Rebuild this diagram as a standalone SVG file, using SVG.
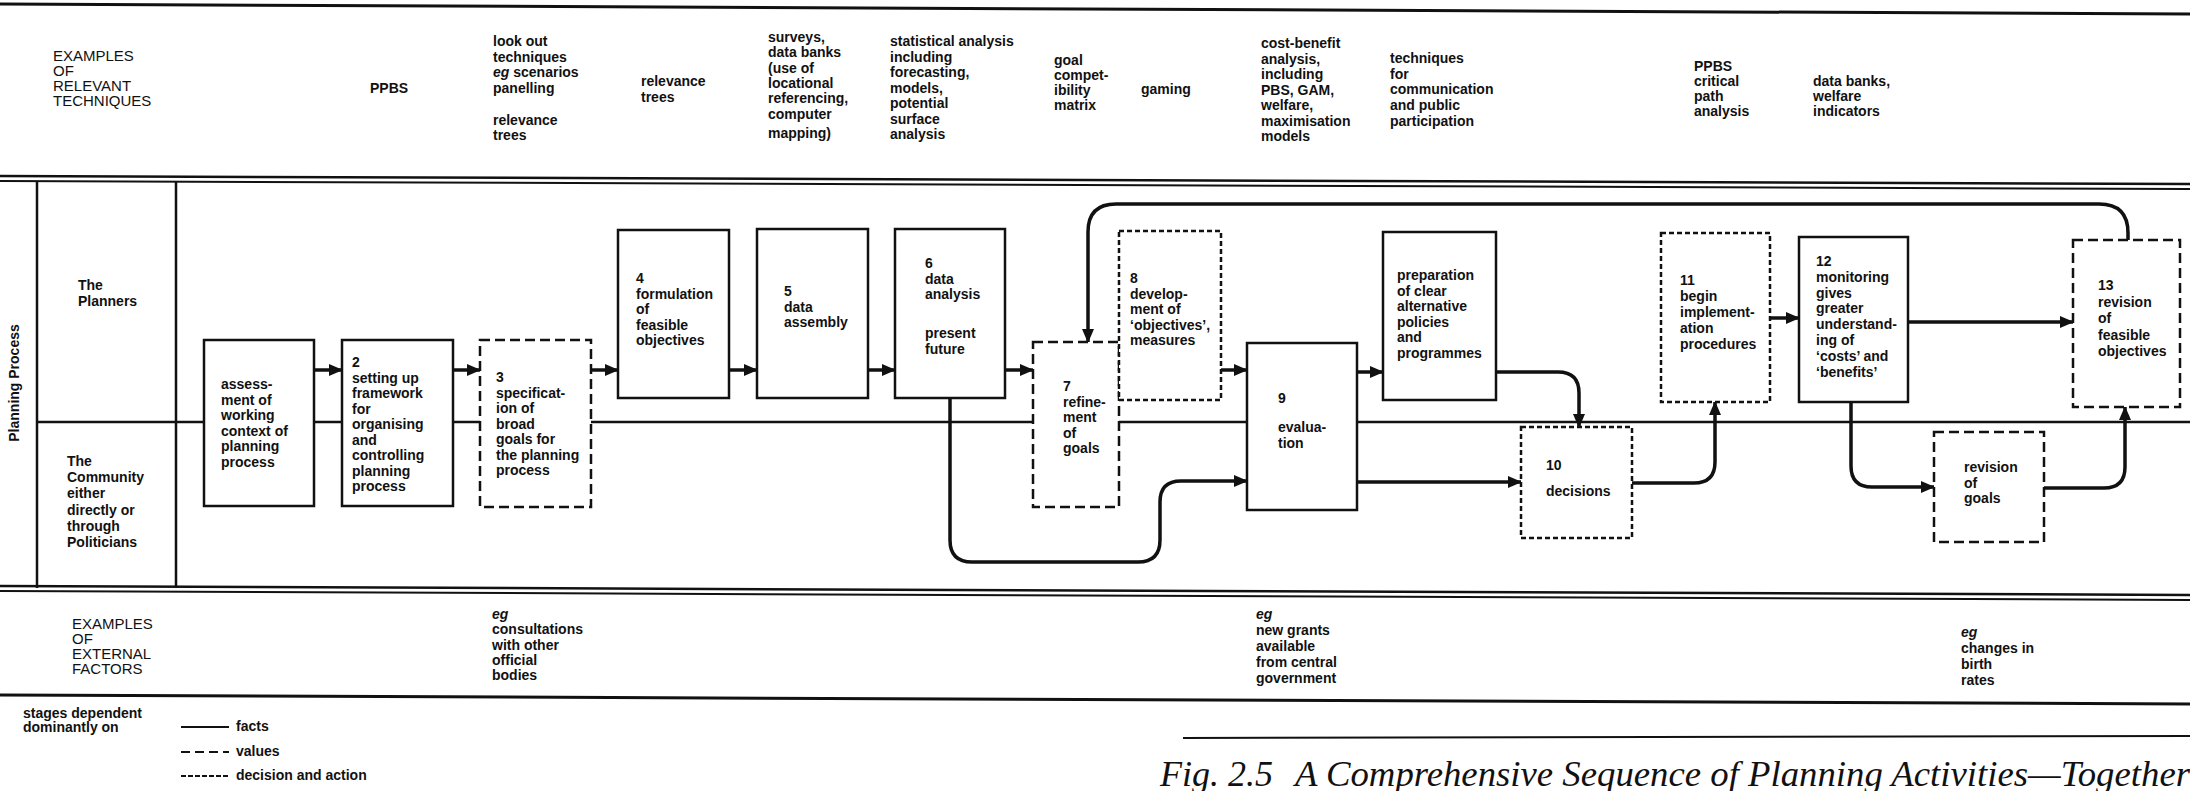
<svg xmlns="http://www.w3.org/2000/svg" width="2190" height="791" viewBox="0 0 2190 791">
<defs>
<marker id="ah" markerUnits="userSpaceOnUse" markerWidth="14" markerHeight="12" viewBox="0 0 14 12" refX="13" refY="6" orient="auto"><path d="M0,0 L14,6 L0,12 z" fill="#111"/></marker>
</defs>
<style>
text{font-family:"Liberation Sans",Arial,sans-serif;fill:#111}
.t{font-size:14px;font-weight:bold}
.h{font-size:15px}
.box{fill:#fff;stroke:#111;stroke-width:2.5}
.values{stroke-dasharray:10 5}
.dec{stroke-dasharray:5 3}
.rule{stroke:#111;fill:none}
.c{fill:none;stroke:#111;stroke-width:3.5;marker-end:url(#ah)}
.cap{font-family:"Liberation Serif","Times New Roman",serif;font-style:italic;font-size:36px}
.i{font-style:italic}
</style>
<rect x="0" y="0" width="2190" height="791" fill="#fff"/>

<g id="rules">
<path class="rule" stroke-width="3" d="M0 4 L2190 14"/>
<path class="rule" stroke-width="2.5" d="M0 176 L2190 184"/>
<path class="rule" stroke-width="2" d="M0 181 L2190 189"/>
<path class="rule" stroke-width="2.5" d="M0 586 L2190 595"/>
<path class="rule" stroke-width="2" d="M0 591 L2190 600"/>
<path class="rule" stroke-width="3" d="M0 695 L2190 704"/>
<path class="rule" stroke-width="2" d="M1183 738 L2190 736"/>
<path class="rule" stroke-width="2.5" d="M37 181 V588 M176 181 V588"/>
<path class="rule" stroke-width="2.5" d="M37 422 H2190"/>
</g>

<g id="header-techniques">
<text class="h" x="53" y="61"><tspan x="53">EXAMPLES</tspan><tspan x="53" dy="15">OF</tspan><tspan x="53" dy="15">RELEVANT</tspan><tspan x="53" dy="15">TECHNIQUES</tspan></text>
<text class="t" x="370" y="93">PPBS</text>
<text class="t" x="493" y="46"><tspan x="493">look out</tspan><tspan x="493" dy="15.5">techniques</tspan><tspan x="493" dy="15.5"><tspan class="i">eg</tspan> scenarios</tspan><tspan x="493" dy="15.5">panelling</tspan><tspan x="493" dy="32">relevance</tspan><tspan x="493" dy="15.5">trees</tspan></text>
<text class="t" x="641" y="86"><tspan x="641">relevance</tspan><tspan x="641" dy="15.5">trees</tspan></text>
<text class="t" x="768" y="42"><tspan x="768">surveys,</tspan><tspan x="768" dy="15.3">data banks</tspan><tspan x="768" dy="15.3">(use of</tspan><tspan x="768" dy="15.3">locational</tspan><tspan x="768" dy="15.3">referencing,</tspan><tspan x="768" dy="16">computer</tspan><tspan x="768" dy="19">mapping)</tspan></text>
<text class="t" x="890" y="46"><tspan x="890">statistical analysis</tspan><tspan x="890" dy="15.5">including</tspan><tspan x="890" dy="15.5">forecasting,</tspan><tspan x="890" dy="15.5">models,</tspan><tspan x="890" dy="15.5">potential</tspan><tspan x="890" dy="15.5">surface</tspan><tspan x="890" dy="15.5">analysis</tspan></text>
<text class="t" x="1054" y="65"><tspan x="1054">goal</tspan><tspan x="1054" dy="15">compet-</tspan><tspan x="1054" dy="15">ibility</tspan><tspan x="1054" dy="15">matrix</tspan></text>
<text class="t" x="1141" y="94">gaming</text>
<text class="t" x="1261" y="48"><tspan x="1261">cost-benefit</tspan><tspan x="1261" dy="15.5">analysis,</tspan><tspan x="1261" dy="15.5">including</tspan><tspan x="1261" dy="15.5">PBS, GAM,</tspan><tspan x="1261" dy="15.5">welfare,</tspan><tspan x="1261" dy="15.5">maximisation</tspan><tspan x="1261" dy="15.5">models</tspan></text>
<text class="t" x="1390" y="63"><tspan x="1390">techniques</tspan><tspan x="1390" dy="15.7">for</tspan><tspan x="1390" dy="15.7">communication</tspan><tspan x="1390" dy="15.7">and public</tspan><tspan x="1390" dy="15.7">participation</tspan></text>
<text class="t" x="1694" y="71"><tspan x="1694">PPBS</tspan><tspan x="1694" dy="15">critical</tspan><tspan x="1694" dy="15">path</tspan><tspan x="1694" dy="15">analysis</tspan></text>
<text class="t" x="1813" y="86"><tspan x="1813">data banks,</tspan><tspan x="1813" dy="15">welfare</tspan><tspan x="1813" dy="15">indicators</tspan></text>
</g>

<g id="lanes">
<text class="t" font-size="13" transform="translate(19,383) rotate(-90)" text-anchor="middle">Planning Process</text>
<text class="t" x="78" y="290"><tspan x="78">The</tspan><tspan x="78" dy="16">Planners</tspan></text>
<text class="t" x="67" y="466"><tspan x="67">The</tspan><tspan x="67" dy="16.2">Community</tspan><tspan x="67" dy="16.2">either</tspan><tspan x="67" dy="16.2">directly or</tspan><tspan x="67" dy="16.2">through</tspan><tspan x="67" dy="16.2">Politicians</tspan></text>
</g>

<g id="connectors">
<path class="c" d="M314 370 H342"/>
<path class="c" d="M453 370 H480"/>
<path class="c" d="M591 370 H618"/>
<path class="c" d="M729 370 H757"/>
<path class="c" d="M868 370 H895"/>
<path class="c" d="M1005 370 H1033"/>
<path class="c" d="M1221 370 H1247"/>
<path class="c" d="M1357 372 H1383"/>
<path class="c" d="M950 398 V540 Q950 562 972 562 H1138 Q1160 562 1160 540 V502 Q1160 481 1181 481 H1247"/>
<path class="c" d="M2128 240 V233 Q2128 204 2099 204 H1116 Q1088 204 1088 232 V342"/>
<path class="c" d="M1496 372 H1558 Q1579 372 1579 393 V427"/>
<path class="c" d="M1357 482 H1521"/>
<path class="c" d="M1632 483 H1694 Q1715 483 1715 462 V402"/>
<path class="c" d="M1770 318 H1799"/>
<path class="c" d="M1908 322 H2073"/>
<path class="c" d="M1851 402 V466 Q1851 487 1872 487 H1934"/>
<path class="c" d="M2044 488 H2104 Q2125 488 2125 467 V407"/>
</g>

<g id="n1"><rect class="box" x="204" y="340" width="110" height="166"/>
<text class="t" x="221" y="389"><tspan x="221">assess-</tspan><tspan x="221" dy="15.5">ment of</tspan><tspan x="221" dy="15.5">working</tspan><tspan x="221" dy="15.5">context of</tspan><tspan x="221" dy="15.5">planning</tspan><tspan x="221" dy="15.5">process</tspan></text></g>

<g id="n2"><rect class="box" x="342" y="340" width="111" height="166"/>
<text class="t" x="352" y="367"><tspan x="352">2</tspan><tspan x="352" dy="15.5">setting up</tspan><tspan x="352" dy="15.5">framework</tspan><tspan x="352" dy="15.5">for</tspan><tspan x="352" dy="15.5">organising</tspan><tspan x="352" dy="15.5">and</tspan><tspan x="352" dy="15.5">controlling</tspan><tspan x="352" dy="15.5">planning</tspan><tspan x="352" dy="15.5">process</tspan></text></g>

<g id="n3"><rect class="box values" x="480" y="340" width="111" height="167"/>
<text class="t" x="496" y="382"><tspan x="496">3</tspan><tspan x="496" dy="15.5">specificat-</tspan><tspan x="496" dy="15.5">ion of</tspan><tspan x="496" dy="15.5">broad</tspan><tspan x="496" dy="15.5">goals for</tspan><tspan x="496" dy="15.5">the planning</tspan><tspan x="496" dy="15.5">process</tspan></text></g>

<g id="n4"><rect class="box" x="618" y="230" width="111" height="168"/>
<text class="t" x="636" y="283"><tspan x="636">4</tspan><tspan x="636" dy="15.5">formulation</tspan><tspan x="636" dy="15.5">of</tspan><tspan x="636" dy="15.5">feasible</tspan><tspan x="636" dy="15.5">objectives</tspan></text></g>

<g id="n5"><rect class="box" x="757" y="229" width="111" height="169"/>
<text class="t" x="784" y="296"><tspan x="784">5</tspan><tspan x="784" dy="15.5">data</tspan><tspan x="784" dy="15.5">assembly</tspan></text></g>

<g id="n6"><rect class="box" x="895" y="229" width="110" height="169"/>
<text class="t" x="925" y="268"><tspan x="925">6</tspan><tspan x="925" dy="15.5">data</tspan><tspan x="925" dy="15.5">analysis</tspan><tspan x="925" dy="39">present</tspan><tspan x="925" dy="15.5">future</tspan></text></g>

<g id="n7"><rect class="box values" x="1033" y="342" width="86" height="165"/>
<text class="t" x="1063" y="391"><tspan x="1063">7</tspan><tspan x="1063" dy="15.5">refine-</tspan><tspan x="1063" dy="15.5">ment</tspan><tspan x="1063" dy="15.5">of</tspan><tspan x="1063" dy="15.5">goals</tspan></text></g>

<g id="n8"><rect class="box dec" x="1119" y="231" width="102" height="169"/>
<text class="t" x="1130" y="283"><tspan x="1130">8</tspan><tspan x="1130" dy="15.5">develop-</tspan><tspan x="1130" dy="15.5">ment of</tspan><tspan x="1130" dy="15.5">‘objectives’,</tspan><tspan x="1130" dy="15.5">measures</tspan></text></g>

<g id="n9"><rect class="box" x="1247" y="343" width="110" height="167"/>
<text class="t" x="1278" y="403"><tspan x="1278">9</tspan><tspan x="1278" dy="29">evalua-</tspan><tspan x="1278" dy="15.5">tion</tspan></text></g>

<g id="n-prep"><rect class="box" x="1383" y="232" width="113" height="168"/>
<text class="t" x="1397" y="280"><tspan x="1397">preparation</tspan><tspan x="1397" dy="15.5">of clear</tspan><tspan x="1397" dy="15.5">alternative</tspan><tspan x="1397" dy="15.5">policies</tspan><tspan x="1397" dy="15.5">and</tspan><tspan x="1397" dy="15.5">programmes</tspan></text></g>

<g id="n10"><rect class="box dec" x="1521" y="427" width="111" height="111"/>
<text class="t" x="1546" y="470"><tspan x="1546">10</tspan><tspan x="1546" dy="26">decisions</tspan></text></g>

<g id="n11"><rect class="box dec" x="1661" y="233" width="109" height="169"/>
<text class="t" x="1680" y="285"><tspan x="1680">11</tspan><tspan x="1680" dy="16">begin</tspan><tspan x="1680" dy="16">implement-</tspan><tspan x="1680" dy="16">ation</tspan><tspan x="1680" dy="16">procedures</tspan></text></g>

<g id="n12"><rect class="box" x="1799" y="237" width="109" height="165"/>
<text class="t" x="1816" y="266"><tspan x="1816">12</tspan><tspan x="1816" dy="15.8">monitoring</tspan><tspan x="1816" dy="15.8">gives</tspan><tspan x="1816" dy="15.8">greater</tspan><tspan x="1816" dy="15.8">understand-</tspan><tspan x="1816" dy="15.8">ing of</tspan><tspan x="1816" dy="15.8">‘costs’ and</tspan><tspan x="1816" dy="15.8">‘benefits’</tspan></text></g>

<g id="n13"><rect class="box values" x="2073" y="240" width="107" height="167"/>
<text class="t" x="2098" y="290"><tspan x="2098">13</tspan><tspan x="2098" dy="16.5">revision</tspan><tspan x="2098" dy="16.5">of</tspan><tspan x="2098" dy="16.5">feasible</tspan><tspan x="2098" dy="16.5">objectives</tspan></text></g>

<g id="n-revision"><rect class="box values" x="1934" y="432" width="110" height="110"/>
<text class="t" x="1964" y="472"><tspan x="1964">revision</tspan><tspan x="1964" dy="15.5">of</tspan><tspan x="1964" dy="15.5">goals</tspan></text></g>

<g id="external">
<text class="h" x="72" y="629"><tspan x="72">EXAMPLES</tspan><tspan x="72" dy="15">OF</tspan><tspan x="72" dy="15">EXTERNAL</tspan><tspan x="72" dy="15">FACTORS</tspan></text>
<text class="t" x="492" y="619"><tspan x="492" class="i">eg</tspan><tspan x="492" dy="15.3">consultations</tspan><tspan x="492" dy="15.3">with other</tspan><tspan x="492" dy="15.3">official</tspan><tspan x="492" dy="15.3">bodies</tspan></text>
<text class="t" x="1256" y="619"><tspan x="1256" class="i">eg</tspan><tspan x="1256" dy="16">new grants</tspan><tspan x="1256" dy="16">available</tspan><tspan x="1256" dy="16">from central</tspan><tspan x="1256" dy="16">government</tspan></text>
<text class="t" x="1961" y="637"><tspan x="1961" class="i">eg</tspan><tspan x="1961" dy="16">changes in</tspan><tspan x="1961" dy="16">birth</tspan><tspan x="1961" dy="16">rates</tspan></text>
</g>

<g id="legend">
<text class="t" font-size="13" x="23" y="718"><tspan x="23">stages dependent</tspan><tspan x="23" dy="14">dominantly on</tspan></text>
<path class="rule" stroke-width="2" d="M181 727 H229"/>
<path class="rule" stroke-width="2" stroke-dasharray="9 5" d="M181 752 H229"/>
<path class="rule" stroke-width="2" stroke-dasharray="5 2" d="M181 776 H229"/>
<text class="t" font-size="13" x="236" y="731">facts</text>
<text class="t" font-size="13" x="236" y="756">values</text>
<text class="t" font-size="13" x="236" y="780">decision and action</text>
</g>

<g id="caption">
<text class="cap" x="1160" y="786">Fig. 2.5</text>
<text class="cap" x="1295" y="786" textLength="895" lengthAdjust="spacingAndGlyphs">A Comprehensive Sequence of Planning Activities—Together</text>
</g>
</svg>
